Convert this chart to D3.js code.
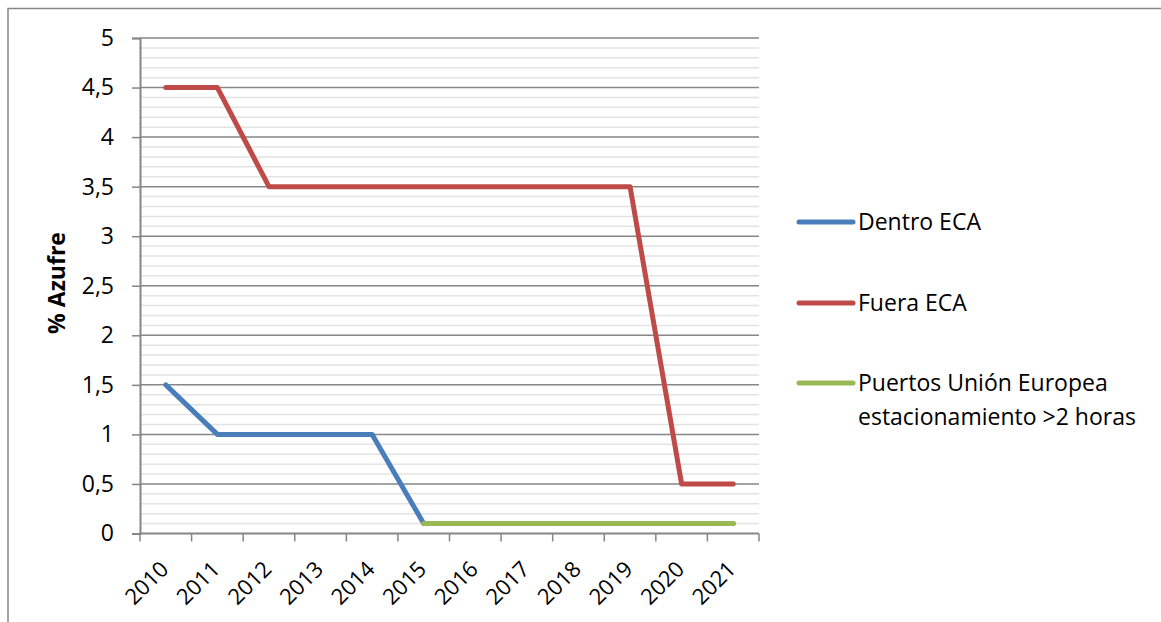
<!DOCTYPE html>
<html>
<head>
<meta charset="utf-8">
<script src="https://cdn.jsdelivr.net/npm/d3@7"></script>
<style>
  body { margin: 0; background: #fff; }
  text { font-family: "Open Sans", Lato, sans-serif; fill: #000; }
</style>
</head>
<body>
<script>
//chart data
var years = ["2010", "2011", "2012", "2013", "2014", "2015", "2016", "2017", "2018", "2019", "2020", "2021"];
var dentroECA = [1.5, 1, 1, 1, 1, 0.1, 0.1, 0.1, 0.1, 0.1, 0.1, 0.1];
var fueraECA = [4.5, 4.5, 3.5, 3.5, 3.5, 3.5, 3.5, 3.5, 3.5, 3.5, 0.5, 0.5];
var puertosUE = [null, null, null, null, null, 0.1, 0.1, 0.1, 0.1, 0.1, 0.1, 0.1];
var yTicks = [0, 0.5, 1, 1.5, 2, 2.5, 3, 3.5, 4, 4.5, 5];
var seriesNames = ["Dentro ECA", "Fuera ECA", "Puertos Unión Europea\nestacionamiento >2 horas"];
var seriesColors = ["#4a7ebb", "#be4b48", "#98b954"];

var width = 1161,
    height = 622;

var svg = d3.select("body")
  .append("svg")
  .attr("width", width)
  .attr("height", height);

//outer chart frame (right and bottom edges fall outside the window)
svg.append("rect")
  .attr("x", 8)
  .attr("y", 8.5)
  .attr("width", 1200)
  .attr("height", 700)
  .attr("fill", "none")
  .attr("stroke", "#868686")
  .attr("stroke-width", 1.5);

var x = d3.scaleBand()
  .domain(years)
  .range([140, 759]);

var y = d3.scaleLinear()
  .domain([0, 5])
  .range([533.5, 38]);

//minor gridlines every 0.1
var minor = d3.range(1, 50).map(function(i){ return i / 10; })
  .filter(function(v){ return Math.round(v * 10) % 5 != 0; });

svg.append("g")
  .selectAll("line")
  .data(minor)
  .enter()
  .append("line")
  .attr("x1", 140)
  .attr("x2", 759)
  .attr("y1", function(d){ return y(d); })
  .attr("y2", function(d){ return y(d); })
  .attr("stroke", "#e3e3e3")
  .attr("stroke-width", 1.5);

//major gridlines
svg.append("g")
  .selectAll("line")
  .data(yTicks.slice(1))
  .enter()
  .append("line")
  .attr("x1", 140)
  .attr("x2", 759)
  .attr("y1", function(d){ return y(d); })
  .attr("y2", function(d){ return y(d); })
  .attr("stroke", "#868686")
  .attr("stroke-width", 1.5);

//y axis
var yAxis = d3.axisLeft(y)
  .tickValues(yTicks)
  .tickSize(8)
  .tickPadding(18)
  .tickFormat(function(d){ return String(d).replace(".", ","); });

var yg = svg.append("g")
  .attr("transform", "translate(140,0)")
  .call(yAxis);

yg.attr("font-family", null).attr("font-size", null);
yg.select(".domain").attr("stroke", "#868686").attr("stroke-width", 2);
yg.selectAll(".tick line").attr("stroke", "#868686").attr("stroke-width", 1.5);
yg.selectAll(".tick text").style("font-size", "23px");

//x axis with ticks on category boundaries
var xg = svg.append("g");
xg.append("line")
  .attr("x1", 140).attr("x2", 759)
  .attr("y1", y(0)).attr("y2", y(0))
  .attr("stroke", "#868686").attr("stroke-width", 2);

var edges = years.map(function(d){ return x(d); }).concat([x.range()[1]]);
xg.selectAll(".xtick")
  .data(edges)
  .enter()
  .append("line")
  .attr("class", "xtick")
  .attr("x1", function(d){ return d; })
  .attr("x2", function(d){ return d; })
  .attr("y1", y(0))
  .attr("y2", y(0) + 8)
  .attr("stroke", "#868686")
  .attr("stroke-width", 1.5);

xg.selectAll(".xlabel")
  .data(years)
  .enter()
  .append("text")
  .attr("class", "xlabel")
  .attr("text-anchor", "end")
  .attr("transform", function(d){
    return "translate(" + (x(d) + x.bandwidth() / 2 + 4) + "," + (y(0) + 37) + ") rotate(-45)";
  })
  .style("font-size", "22px")
  .text(function(d){ return d; });

//axis title
svg.append("text")
  .attr("transform", "translate(65,283) rotate(-90)")
  .attr("text-anchor", "middle")
  .style("font-size", "23px")
  .style("font-weight", "bold")
  .text("% Azufre");

//series lines
var line = d3.line()
  .defined(function(d){ return d != null; })
  .x(function(d, i){ return x(years[i]) + x.bandwidth() / 2; })
  .y(function(d){ return y(d); });

[dentroECA, fueraECA, puertosUE].forEach(function(s, i){
  svg.append("path")
    .datum(s)
    .attr("d", line)
    .attr("fill", "none")
    .attr("stroke", seriesColors[i])
    .attr("stroke-width", 5)
    .attr("stroke-linecap", "round")
    .attr("stroke-linejoin", "round");
});

//legend
var legendY = [222, 303, 383];
var legend = svg.selectAll(".legend")
  .data(seriesNames)
  .enter()
  .append("g")
  .attr("class", "legend")
  .attr("transform", function(d, i){ return "translate(799," + legendY[i] + ")"; });

legend.append("line")
  .attr("x1", 0).attr("x2", 54)
  .attr("stroke", function(d, i){ return seriesColors[i]; })
  .attr("stroke-width", 5)
  .attr("stroke-linecap", "round");

legend.append("text")
  .attr("x", 59)
  .style("font-size", "23px")
  .selectAll("tspan")
  .data(function(d){ return d.split("\n"); })
  .enter()
  .append("tspan")
  .attr("x", 59)
  .attr("dy", function(d, i){ return i == 0 ? "0.35em" : "34px"; })
  .text(function(d){ return d; });
</script>
</body>
</html>
